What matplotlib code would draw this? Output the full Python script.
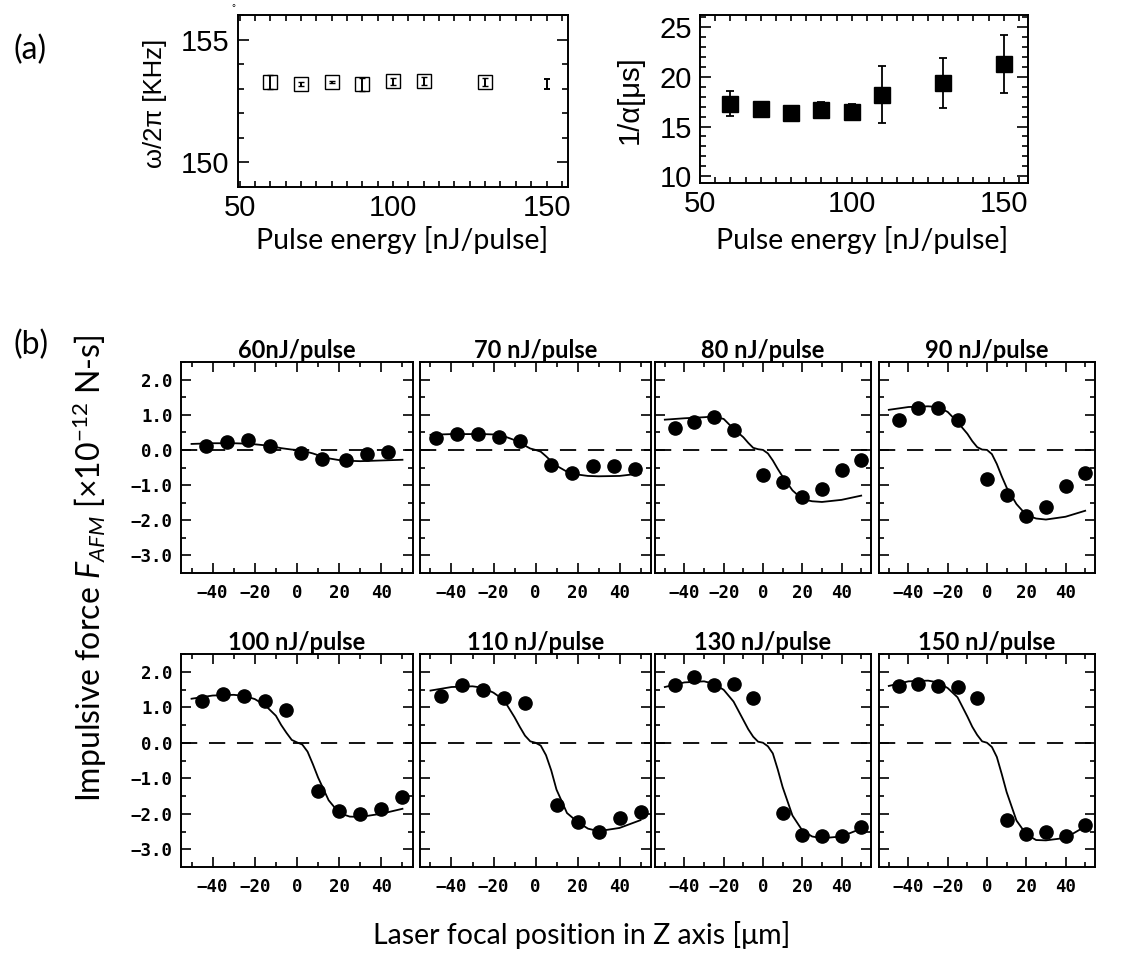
import matplotlib
matplotlib.use("Agg")
import matplotlib.pyplot as plt
from matplotlib.ticker import MultipleLocator, FixedLocator

# ---------------- data ----------------
energy = [60, 70, 80, 90, 100, 110, 130, 150]
freq_val = [153.27, 153.2, 153.27, 153.18, 153.31, 153.31, 153.26, 153.2]
freq_err = [0.27, 0.08, 0.05, 0.27, 0.14, 0.17, 0.16, 0.2]
decay_val = [17.3, 16.8, 16.4, 16.7, 16.5, 18.2, 19.4, 21.3]
decay_err = [1.28, 0.3, 0.3, 0.8, 0.8, 2.87, 2.5, 2.93]

titles = ["60nJ/pulse", "70 nJ/pulse", "80 nJ/pulse", "90 nJ/pulse",
          "100 nJ/pulse", "110 nJ/pulse", "130 nJ/pulse", "150 nJ/pulse"]

pts_x = [
    [-43, -33, -23, -13, 2, 12, 23, 33, 43],
    [-47.5, -37.5, -27.5, -17.5, -7.5, 7.5, 17.5, 27.5, 37.5, 47.5],
    [-45, -35, -25, -15, 0, 10, 20, 30, 40, 50],
    [-45, -35, -25, -15, 0, 10, 20, 30, 40, 50],
    [-45, -35, -25, -15, -5, 10, 20, 30, 40, 50],
    [-45, -35, -25, -15, -5, 10, 20, 30, 40, 50],
    [-45, -35, -25, -15, -5, 10, 20, 30, 40, 50],
    [-45, -35, -25, -15, -5, 10, 20, 30, 40, 50],
]
pts_y = [
    [0.10, 0.22, 0.27, 0.12, -0.10, -0.26, -0.30, -0.13, -0.07],
    [0.33, 0.46, 0.45, 0.38, 0.24, -0.43, -0.67, -0.45, -0.47, -0.54],
    [0.63, 0.79, 0.95, 0.57, -0.70, -0.90, -1.35, -1.11, -0.57, -0.30],
    [0.86, 1.20, 1.20, 0.84, -0.83, -1.28, -1.88, -1.62, -1.02, -0.67],
    [1.18, 1.38, 1.33, 1.18, 0.91, -1.37, -1.92, -2.02, -1.88, -1.53],
    [1.33, 1.62, 1.50, 1.26, 1.11, -1.74, -2.23, -2.51, -2.11, -1.96],
    [1.63, 1.84, 1.63, 1.66, 1.25, -1.98, -2.59, -2.64, -2.63, -2.38],
    [1.60, 1.66, 1.60, 1.57, 1.25, -2.19, -2.57, -2.52, -2.63, -2.33],
]

# fitted curves
curve_x = [-50, -40, -30, -25, -20, -15, -10, -7.5, -5, -2.5, 0,
           2.5, 5, 7.5, 10, 15, 20, 25, 30, 40, 50]
curve_y = [
    [0.17, 0.19, 0.19, 0.18, 0.16, 0.13, 0.08, 0.05, 0.03, 0.01, 0.0,
     -0.02, -0.06, -0.10, -0.15, -0.24, -0.29, -0.31, -0.32, -0.30, -0.28],
    [0.43, 0.45, 0.45, 0.45, 0.44, 0.39, 0.28, 0.20, 0.12, 0.04, 0.0,
     -0.05, -0.18, -0.32, -0.45, -0.62, -0.70, -0.74, -0.75, -0.74, -0.67],
    [0.86, 0.90, 0.93, 0.95, 0.88, 0.60, 0.36, 0.20, 0.06, 0.02, 0.0,
     -0.10, -0.30, -0.54, -0.76, -1.15, -1.40, -1.46, -1.48, -1.42, -1.30],
    [1.14, 1.22, 1.24, 1.22, 1.08, 0.79, 0.46, 0.25, 0.08, 0.01, 0.0,
     -0.12, -0.40, -0.75, -1.07, -1.54, -1.85, -1.95, -1.98, -1.90, -1.73],
    [1.24, 1.33, 1.35, 1.32, 1.23, 1.05, 0.76, 0.50, 0.28, 0.08, 0.01,
     -0.05, -0.25, -0.60, -0.98, -1.62, -1.98, -2.08, -2.09, -2.00, -1.86],
    [1.47, 1.57, 1.59, 1.55, 1.41, 1.20, 0.72, 0.45, 0.20, 0.04, 0.0,
     -0.08, -0.35, -0.78, -1.32, -1.98, -2.23, -2.42, -2.49, -2.40, -2.18],
    [1.57, 1.70, 1.73, 1.66, 1.49, 1.16, 0.64, 0.38, 0.17, 0.03, 0.0,
     -0.10, -0.30, -0.75, -1.25, -2.05, -2.47, -2.64, -2.69, -2.64, -2.42],
    [1.60, 1.73, 1.75, 1.70, 1.54, 1.28, 0.74, 0.45, 0.22, 0.04, 0.0,
     -0.12, -0.40, -0.88, -1.39, -2.19, -2.58, -2.74, -2.75, -2.68, -2.36],
]

ytick_vals = [2.0, 1.0, 0.0, -1.0, -2.0, -3.0]
ytick_labels = ["2.0", "1.0", "0.0", "\u22121.0", "\u22122.0", "\u22123.0"]
xtick_vals = [-40, -20, 0, 20, 40]
xtick_labels = ["\u221240", "\u221220", "0", "20", "40"]

# ---------------- style ----------------
plt.rcParams['mathtext.fontset'] = 'custom'
plt.rcParams['mathtext.rm'] = 'Lato'
plt.rcParams['mathtext.it'] = 'Lato:italic'

W, H = 1142, 960
fig = plt.figure(figsize=(W / 100, H / 100), dpi=100)


def box(l, t, r, b):
    return [l / W, 1 - b / H, (r - l) / W, (b - t) / H]


def fx(px):
    return px / W


def fy(py):
    return 1 - py / H


NUMFONT = ['Liberation Sans', 'DejaVu Sans']
TXTFONT = ['Lato', 'DejaVu Sans']
TICKFONT = ['DejaVu Sans Mono']
LW = 1.4

# ---------------- (a) left ----------------
ax1 = fig.add_axes(box(238, 15, 568, 187))
ax1.errorbar(energy[:-1], freq_val[:-1], yerr=freq_err[:-1], fmt='s', ms=9.5,
             mfc='none', mec='black', mew=1.0, ecolor='black', elinewidth=1.4,
             capsize=2.5, capthick=1.4)
ax1.errorbar(energy[-1:], freq_val[-1:], yerr=freq_err[-1:], fmt='none',
             ecolor='black', elinewidth=1.4, capsize=2.5, capthick=1.4)
ax1.set_xlim(49.5, 157)
ax1.set_ylim(149, 156)
ax1.xaxis.set_major_locator(FixedLocator([50, 100, 150]))
ax1.xaxis.set_minor_locator(MultipleLocator(5))
ax1.yaxis.set_major_locator(FixedLocator([150, 155]))
ax1.yaxis.set_minor_locator(MultipleLocator(1))

# ---------------- (a) right ----------------
ax2 = fig.add_axes(box(700, 15, 1028, 183))
ax2.errorbar(energy, decay_val, yerr=decay_err, fmt='s', ms=11,
             mfc='black', mec='black', ecolor='black', elinewidth=1.3,
             capsize=3, capthick=1.3)
ax2.set_xlim(50, 158)
ax2.set_ylim(9.33, 26.2)
ax2.xaxis.set_major_locator(FixedLocator([50, 100, 150]))
ax2.xaxis.set_minor_locator(MultipleLocator(5))
ax2.yaxis.set_major_locator(FixedLocator([10, 15, 20, 25]))
ax2.yaxis.set_minor_locator(MultipleLocator(1))

for ax in (ax1, ax2):
    for s in ax.spines.values():
        s.set_linewidth(LW)
    ax.tick_params(which='both', direction='in', top=True, right=True,
                   width=1.2, pad=6)
    ax.tick_params(axis='x', which='both', length=4, pad=5)
    ax.tick_params(axis='y', which='major', length=8)
    ax.tick_params(axis='y', which='minor', length=4)
    for lab in ax.get_xticklabels() + ax.get_yticklabels():
        lab.set_fontfamily(NUMFONT)
        lab.set_fontsize(21)

fig.text(fx(155), fy(103), "\u03c9/2\u03c0 [KHz]", rotation=90, ha='center',
         va='center', fontsize=18.5, family=NUMFONT)
fig.text(fx(630), fy(100), "1/\u03b1[\u03bcs]", rotation=90, ha='center',
         va='center', fontsize=21, family=NUMFONT)
fig.text(fx(402), fy(240), "Pulse energy [nJ/pulse]", ha='center', va='center',
         fontsize=20.5, family=TXTFONT)
fig.text(fx(862), fy(240), "Pulse energy [nJ/pulse]", ha='center', va='center',
         fontsize=20.5, family=TXTFONT)
fig.text(fx(30), fy(50), "(a)", ha='center', va='center', fontsize=23,
         family=TXTFONT)
fig.text(fx(31), fy(345), "(b)", ha='center', va='center', fontsize=23,
         family=TXTFONT)
fig.text(fx(233), fy(8), "\u00b0", ha='center', va='center', fontsize=7,
         family=NUMFONT)

# ---------------- (b) grid ----------------
cols = [(181, 413), (420, 651), (655, 871), (879, 1095)]
rows = [(362, 573), (654, 867)]

for i in range(8):
    r, c = divmod(i, 4)
    l, rr = cols[c]
    t, b = rows[r]
    ax = fig.add_axes(box(l, t, rr, b))
    ax.axhline(0, color='black', lw=1.3, ls=(0, (9, 6.5)))
    ax.plot(curve_x, curve_y[i], color='black', lw=1.3)
    ax.plot(pts_x[i], pts_y[i], 'o', color='black', ms=9.5)
    ax.set_xlim(-55, 55)
    ax.set_ylim(-3.5, 2.5)
    ax.set_xticks(xtick_vals)
    ax.set_xticklabels(xtick_labels, family=TICKFONT, fontweight='bold',
                       fontsize=12.5)
    ax.xaxis.set_minor_locator(FixedLocator([-50, -30, -10, 10, 30, 50]))
    ax.set_yticks(ytick_vals)
    if c == 0:
        ax.set_yticklabels(ytick_labels, family=TICKFONT, fontweight='bold',
                           fontsize=12.5)
    else:
        ax.set_yticklabels([])
    ax.yaxis.set_minor_locator(FixedLocator([2.5, 1.5, 0.5, -0.5, -1.5, -2.5]))
    ax.tick_params(which='both', direction='in', top=True, right=True,
                   width=1.2)
    ax.tick_params(which='major', length=7, pad=6)
    ax.tick_params(axis='x', which='major', pad=8)
    ax.tick_params(which='minor', length=3.8)
    for s in ax.spines.values():
        s.set_linewidth(LW)
    ax.set_title(titles[i], fontsize=17, fontweight='bold', family=TXTFONT,
                 pad=3)

fig.text(fx(90), fy(568),
         r"Impulsive force $\mathit{F}_{\mathit{AFM}}$ [$\times$10$^{\mathrm{-12}}$ N-s]",
         rotation=90, ha='center', va='center', fontsize=23, family=TXTFONT)
fig.text(fx(582), fy(935), "Laser focal position in Z axis [\u03bcm]",
         ha='center', va='center', fontsize=20.5, family=TXTFONT)

fig.savefig("out.png", dpi=100)
